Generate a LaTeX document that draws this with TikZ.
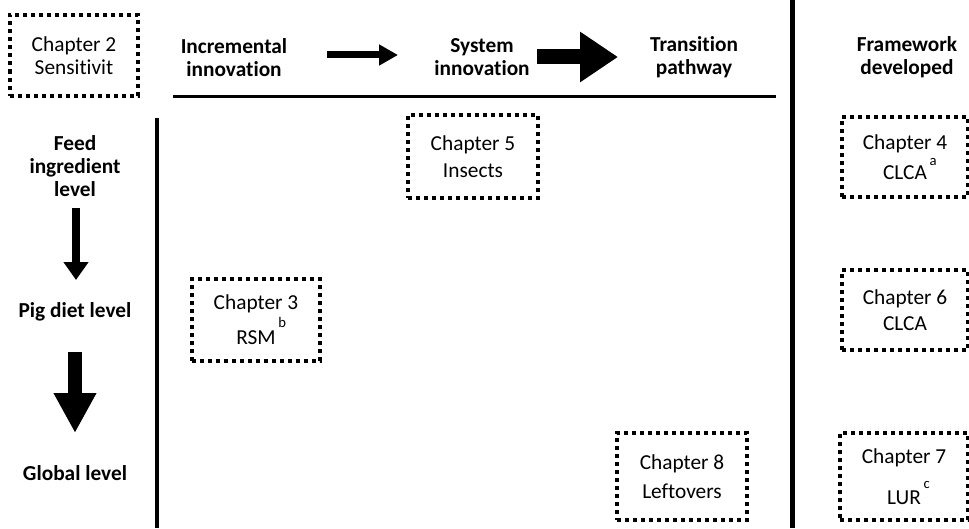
\documentclass[tikz,border=0pt]{standalone}
\usepackage{fontspec}
\setmainfont{Carlito}[Ligatures=NoCommon]
\usetikzlibrary{arrows.meta, positioning}
\newcommand\fnmark[2][13pt]{\rlap{\smash{\raisebox{#1}{\fontsize{11pt}{11pt}\selectfont\hspace{2pt}#2}}}}
\tikzset{
  chbox/.style={draw=black, line width=2.8pt, dash pattern=on 3pt off 3pt, align=center, inner sep=0pt,
    font=\fontsize{16pt}{17.25pt}\selectfont},
  colhead/.style={align=center, font=\fontsize{16pt}{17.25pt}\selectfont\bfseries},
  sepline/.style={line width=2.3pt},
  blockarrow/.style 2 args={-{Triangle[length=#1,width=#2]}},
}

\begin{document}
\begin{tikzpicture}[x=0.75pt, y=-0.75pt]
\useasboundingbox (0,0) rectangle (969,528);

%% column and row headings
\node[colhead] (inc) at (234,58) {Incremental\\innovation};
\node[colhead] (sys) at (482,57) {System\\innovation};
\node[colhead] (trans) at (694,57) {Transition\\pathway};
\node[colhead] (frame) at (907,57) {Framework\\developed};
\node[colhead] (feed) at (75,166) {Feed\\ingredient\\level};
\node[colhead] (pig) at (75,312) {Pig diet level};
\node[colhead] (glob) at (75,473) {Global level};

%% separators
\draw[sepline] (173,96.5) -- (776,96.5);
\draw[sepline] (157,118) -- (157,528);
\draw[line width=3.4pt] (792.5,0) -- (792.5,528);

%% arrows
\coordinate (rt1s) at (327,55);  \coordinate (rt1e) at (398,55);
\coordinate (rt2s) at (537,57);  \coordinate (rt2e) at (618,57);
\coordinate (dn1s) at (76,208);  \coordinate (dn1e) at (76,280);
\coordinate (dn2s) at (75,352);  \coordinate (dn2e) at (75,433);
\draw[blockarrow={14.25pt}{15pt}, line width=5.25pt] (rt1s) -- (rt1e);
\draw[blockarrow={28.5pt}{36pt}, line width=11.25pt] (rt2s) -- (rt2e);
\draw[blockarrow={13.5pt}{18pt}, line width=6pt] (dn1s) -- (dn1e);
\draw[blockarrow={30pt}{30pt}, line width=10.5pt] (dn2s) -- (dn2e);

%% chapters
\node[chbox, minimum width=96pt, minimum height=61pt] (ch2) at (74,55.5) {Chapter 2\\Sensitivit};
\node[chbox, minimum width=97.5pt, minimum height=62.25pt] (ch5) at (473,156.5) {Chapter 5\\[3pt]Insects};
\node[chbox, minimum width=96pt, minimum height=61.5pt] (ch3) at (256,320) {Chapter 3\\[9pt]RSM\fnmark{b}};
\node[chbox, minimum width=97.5pt, minimum height=65.25pt] (ch8) at (682,476.5) {Chapter 8\\[5pt]Leftovers};
\node[chbox, minimum width=94.5pt, minimum height=60pt] (ch4) at (905,157) {Chapter 4\\[5pt]CLCA\fnmark[10pt]{a}};
\node[chbox, minimum width=94.5pt, minimum height=60pt] (ch6) at (905,310) {Chapter 6\\[2pt]CLCA};
\node[chbox, minimum width=96pt, minimum height=65.25pt] (ch7) at (904,476.5) {Chapter 7\\[13pt]LUR\fnmark[12pt]{c}};

\end{tikzpicture}
\end{document}
